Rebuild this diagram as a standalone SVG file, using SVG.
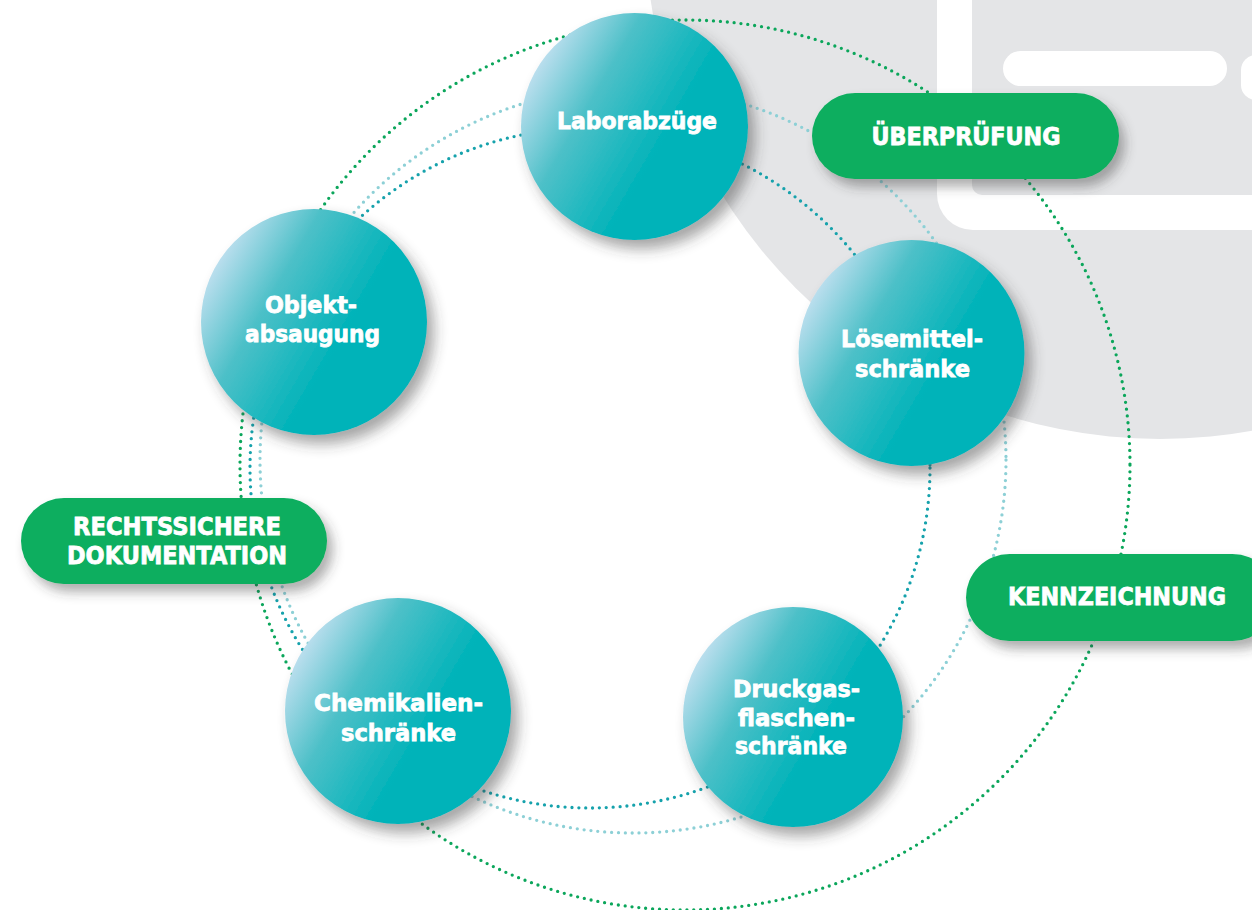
<svg xmlns="http://www.w3.org/2000/svg" width="1252" height="910" viewBox="0 0 1252 910">
<defs>
<linearGradient id="ball" x1="0.02" y1="0.28" x2="0.6" y2="0.62">
<stop offset="0" stop-color="#c4e1f1"/>
<stop offset="0.45" stop-color="#4dc0c8"/>
<stop offset="1" stop-color="#00b3b9"/>
</linearGradient>
<filter id="sh" x="-30%" y="-30%" width="170%" height="170%">
<feDropShadow dx="7" dy="9" stdDeviation="7" flood-color="#3a3a3a" flood-opacity="0.45"/>
</filter>
<filter id="shp" x="-20%" y="-40%" width="150%" height="200%">
<feDropShadow dx="6" dy="8" stdDeviation="6" flood-color="#3a3a3a" flood-opacity="0.4"/>
</filter>
</defs>
<style>
.dot{fill:none;stroke-width:3.3;stroke-linecap:round;stroke-dasharray:0 6.9}
.g{stroke:#0ba65b}
.t{stroke:#16a2ac}
.l{stroke:#8dd0d6}
.node{fill:url(#ball);filter:url(#sh)}
.pill{fill:#0aae5f;filter:url(#shp)}
.nt{font-family:"DejaVu Sans","Liberation Sans",sans-serif;font-weight:bold;font-size:23px;fill:#fff;stroke:#fff;stroke-width:0.8;text-anchor:middle}
.pt{font-family:"DejaVu Sans","Liberation Sans",sans-serif;font-weight:bold;font-size:24px;fill:#fff;stroke:#fff;stroke-width:0.8;text-anchor:middle}
</style>
<rect width="1252" height="910" fill="#fff"/>
<g id="background">
<circle cx="1160" cy="-76" r="515" fill="#e4e5e7"/>
<rect x="937" y="-100" width="420" height="330" rx="36" fill="#fff"/>
<rect x="972" y="-100" width="400" height="295" rx="10" fill="#e4e5e7"/>
<rect x="1003" y="51" width="224" height="35" rx="17.5" fill="#fff"/>
<rect x="1241" y="55" width="60" height="45" rx="15" fill="#fff"/>
</g>
<g id="connectors">
<circle class="dot g" cx="685" cy="465" r="445"/>
<circle class="dot l" cx="633" cy="460" r="373"/>
<circle class="dot t" cx="590" cy="468" r="340"/>
</g>
<g id="node-ueberpruefung">
<rect class="pill" x="812" y="93" width="307" height="86" rx="43"/>
<text class="pt" x="966" y="145" textLength="189" lengthAdjust="spacingAndGlyphs">ÜBERPRÜFUNG</text>
</g>
<g id="node-kennzeichnung">
<rect class="pill" x="966" y="554" width="310" height="87" rx="43.5"/>
<text class="pt" x="1117" y="605" textLength="218" lengthAdjust="spacingAndGlyphs">KENNZEICHNUNG</text>
</g>
<g id="node-dokumentation">
<rect class="pill" x="21" y="498" width="306" height="86" rx="43"/>
<text class="pt" x="177" y="535" textLength="208" lengthAdjust="spacingAndGlyphs">RECHTSSICHERE</text>
<text class="pt" x="177" y="564" textLength="220" lengthAdjust="spacingAndGlyphs">DOKUMENTATION</text>
</g>
<g id="node-laborabzuege">
<circle class="node" cx="634.5" cy="126.5" r="113.5"/>
<text class="nt" x="637" y="129" textLength="160" lengthAdjust="spacingAndGlyphs">Laborabzüge</text>
</g>
<g id="node-objektabsaugung">
<circle class="node" cx="314" cy="322" r="113"/>
<text class="nt" x="311" y="313" textLength="92" lengthAdjust="spacingAndGlyphs">Objekt-</text>
<text class="nt" x="312.5" y="342" textLength="135" lengthAdjust="spacingAndGlyphs">absaugung</text>
</g>
<g id="node-loesemittel">
<circle class="node" cx="911.5" cy="353" r="113"/>
<text class="nt" x="912" y="347" textLength="142" lengthAdjust="spacingAndGlyphs">Lösemittel-</text>
<text class="nt" x="912.5" y="377" textLength="115" lengthAdjust="spacingAndGlyphs">schränke</text>
</g>
<g id="node-chemikalien">
<circle class="node" cx="398" cy="711" r="113"/>
<text class="nt" x="398.5" y="711" textLength="169" lengthAdjust="spacingAndGlyphs">Chemikalien-</text>
<text class="nt" x="398.5" y="741" textLength="115" lengthAdjust="spacingAndGlyphs">schränke</text>
</g>
<g id="node-druckgas">
<circle class="node" cx="793" cy="717" r="110"/>
<text class="nt" x="796.5" y="697" textLength="127" lengthAdjust="spacingAndGlyphs">Druckgas-</text>
<text class="nt" x="796.5" y="725.5" textLength="117" lengthAdjust="spacingAndGlyphs">flaschen-</text>
<text class="nt" x="791" y="754" textLength="112" lengthAdjust="spacingAndGlyphs">schränke</text>
</g>
</svg>
